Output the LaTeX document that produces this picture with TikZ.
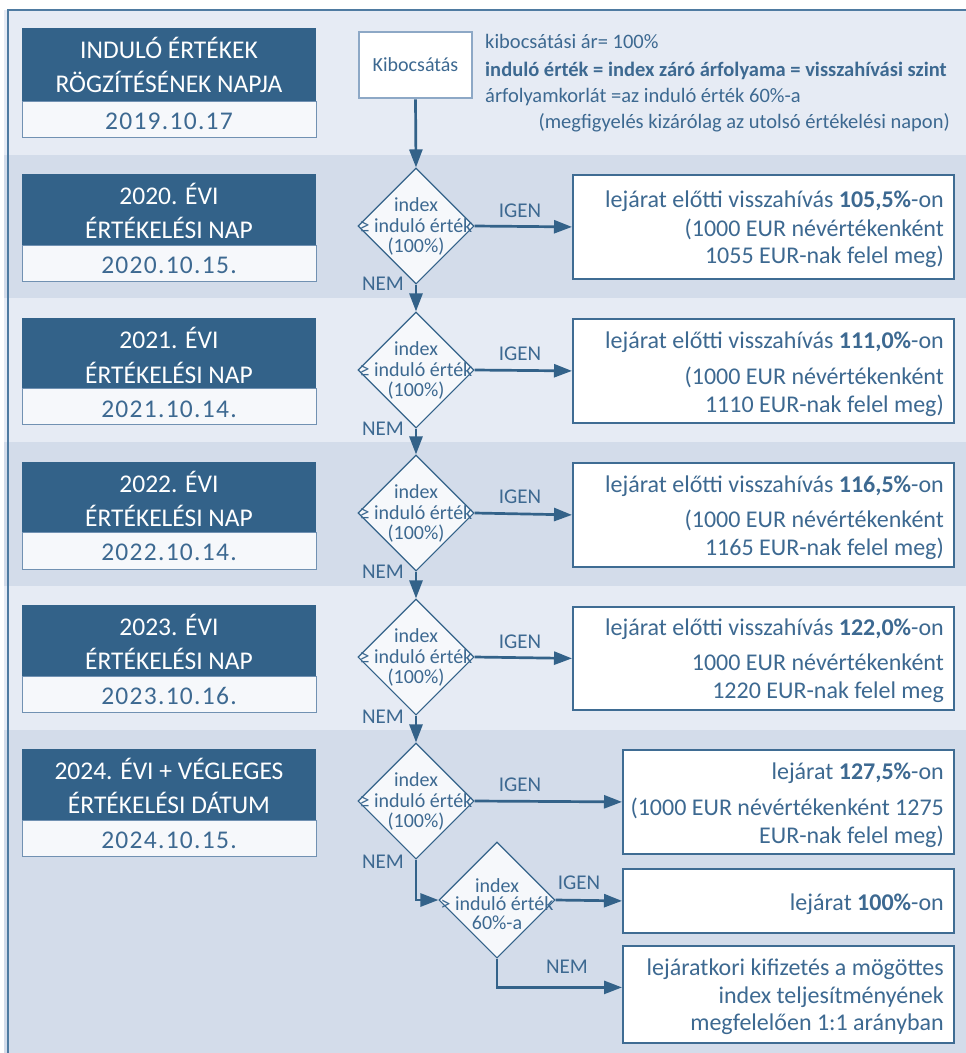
\documentclass[tikz,border=0pt]{standalone}
\usepackage{fontspec}
\setmainfont{Carlito}
\newfontfamily\datefont{Carlito}[LetterSpace=5]
\usetikzlibrary{arrows.meta,shapes.geometric}
\definecolor{bandA}{HTML}{E6EBF4}
\definecolor{bandB}{HTML}{D3DCEA}
\definecolor{navy}{HTML}{336289}
\definecolor{txtblue}{HTML}{3D6991}
\definecolor{framec}{HTML}{4F7BA1}
\definecolor{palefill}{HTML}{F6F8FB}
\definecolor{paleborder}{HTML}{7191B2}
\definecolor{kibborder}{HTML}{8DA8C6}
\definecolor{boxborder}{HTML}{3F6C93}
\tikzset{
  bandrect/.style={fill=#1, draw=none},
  titlebox/.style={rectangle, fill=navy, draw=none, anchor=north west, minimum width=294pt, inner sep=0pt},
  datebox/.style={rectangle, fill=palefill, draw=paleborder, line width=1.2pt, anchor=north west, minimum width=294pt, minimum height=36pt, inner sep=0pt},
  titletxt/.style={text=white, anchor=base, inner sep=0pt, font=\fontsize{25.5pt}{30pt}\selectfont},
  datetxt/.style={text=txtblue, anchor=base, inner sep=0pt, font=\datefont\fontsize{25.5pt}{30pt}\selectfont},
  kibbox/.style={rectangle, fill=white, draw=kibborder, line width=2.8pt, minimum width=113pt, minimum height=66pt, inner sep=0pt, text=txtblue, font=\fontsize{20pt}{24pt}\selectfont},
  htxt/.style={text=txtblue, inner sep=0pt, font=\fontsize{20.5pt}{24pt}\selectfont},
  decision/.style={diamond, aspect=1, fill=palefill, draw=navy, line width=1.1pt, minimum width=116pt, minimum height=116pt, inner sep=0pt},
  dtxt/.style={text=txtblue, anchor=base, inner sep=0pt, font=\fontsize{20pt}{22pt}\selectfont},
  resbox/.style={rectangle, fill=white, draw=boxborder, line width=1.8pt, anchor=north west, inner sep=0pt},
  rtxt/.style={text=txtblue, anchor=base east, inner sep=0pt, font=\fontsize{24pt}{28pt}\selectfont},
  lbl/.style={text=txtblue, anchor=base, inner sep=0pt, font=\fontsize{21pt}{24pt}\selectfont},
  flow/.style={draw=navy, line width=2.7pt, -{Triangle[length=18pt,width=13pt]}},
}
\begin{document}
\begin{tikzpicture}[x=1pt,y=-1pt]
\useasboundingbox (0,0) rectangle (966,1053);
% bands
\path[bandrect=bandA] (4,10) rectangle (966,155);
\path[bandrect=bandB] (4,155) rectangle (966,298);
\path[bandrect=bandA] (4,298) rectangle (966,442);
\path[bandrect=bandB] (4,442) rectangle (966,586);
\path[bandrect=bandA] (4,586) rectangle (966,730);
\path[bandrect=bandB] (4,730) rectangle (966,1053);
\draw[framec, line width=1.3pt] (8,1053) -- (8,10) -- (966,10);

% left boxes
\node[titlebox, minimum height=73pt] (T0) at (22,28) {};
\node[datebox] (E0) at (22,101) {};
\node[titletxt] (T0a) at (169,58) {INDULÓ ÉRTÉKEK};
\node[titletxt] (T0b) at (169,92) {RÖGZÍTÉSÉNEK NAPJA};
\node[datetxt] (E0a) at (169,129) {2019.10.17};

\node[titlebox, minimum height=71pt] (T1) at (22,174) {};
\node[datebox] (E1) at (22,245) {};
\node[titletxt] (T1a) at (169,204) {2020. ÉVI};
\node[titletxt] (T1b) at (169,238) {ÉRTÉKELÉSI NAP};
\node[datetxt] (E1a) at (169,273) {2020.10.15.};

\node[titlebox, minimum height=70pt] (T2) at (22,318) {};
\node[datebox] (E2) at (22,388) {};
\node[titletxt] (T2a) at (169,348) {2021. ÉVI};
\node[titletxt] (T2b) at (169,383) {ÉRTÉKELÉSI NAP};
\node[datetxt] (E2a) at (169,417) {2021.10.14.};

\node[titlebox, minimum height=70pt] (T3) at (22,462) {};
\node[datebox, minimum height=37pt] (E3) at (22,532) {};
\node[titletxt] (T3a) at (169,492) {2022. ÉVI};
\node[titletxt] (T3b) at (169,526) {ÉRTÉKELÉSI NAP};
\node[datetxt] (E3a) at (169,560) {2022.10.14.};

\node[titlebox, minimum height=71pt] (T4) at (22,605) {};
\node[datebox] (E4) at (22,676) {};
\node[titletxt] (T4a) at (169,635) {2023. ÉVI};
\node[titletxt] (T4b) at (169,669) {ÉRTÉKELÉSI NAP};
\node[datetxt] (E4a) at (169,704) {2023.10.16.};

\node[titlebox, minimum height=71pt] (T5) at (22,749) {};
\node[datebox] (E5) at (22,820) {};
\node[titletxt] (T5a) at (169,779) {2024. ÉVI + VÉGLEGES};
\node[titletxt] (T5b) at (169,813) {ÉRTÉKELÉSI DÁTUM};
\node[datetxt] (E5a) at (169,848) {2024.10.15.};

% header
\node[kibbox] (K) at (415.5,65) {Kibocsátás};
\node[htxt, anchor=base west] (H1) at (485,48) {kibocsátási ár= 100\%};
\node[htxt, anchor=base west] (H2) at (485,76) {\textbf{induló érték = index záró árfolyama = visszahívási szint}};
\node[htxt, anchor=base west] (H3) at (485,102) {árfolyamkorlát =az induló érték 60\%-a};
\node[htxt, anchor=base east] (H4) at (950,128) {(megfigyelés kizárólag az utolsó értékelési napon)};

% result boxes
\node[resbox, minimum width=381pt, minimum height=104pt] (R1) at (572,174) {};
\node[rtxt] (R1a) at (944,207) {lejárat előtti visszahívás \textbf{105,5\%}-on};
\node[rtxt] (R1b) at (944,236) {(1000 EUR névértékenként};
\node[rtxt] (R1c) at (944,263) {1055 EUR-nak felel meg)};

\node[resbox, minimum width=381pt, minimum height=104pt] (R2) at (572,318) {};
\node[rtxt] (R2a) at (944,348) {lejárat előtti visszahívás \textbf{111,0\%}-on};
\node[rtxt] (R2b) at (944,384) {(1000 EUR névértékenként};
\node[rtxt] (R2c) at (944,412) {1110 EUR-nak felel meg)};

\node[resbox, minimum width=381pt, minimum height=104pt] (R3) at (572,462) {};
\node[rtxt] (R3a) at (944,492) {lejárat előtti visszahívás \textbf{116,5\%}-on};
\node[rtxt] (R3b) at (944,527) {(1000 EUR névértékenként};
\node[rtxt] (R3c) at (944,555) {1165 EUR-nak felel meg)};

\node[resbox, minimum width=381pt, minimum height=103pt] (R4) at (572,606) {};
\node[rtxt] (R4a) at (944,635) {lejárat előtti visszahívás \textbf{122,0\%}-on};
\node[rtxt] (R4b) at (944,670) {1000 EUR névértékenként};
\node[rtxt] (R4c) at (944,698) {1220 EUR-nak felel meg};

\node[resbox, minimum width=331pt, minimum height=104pt] (R5a) at (622,749) {};
\node[rtxt] (R5aa) at (944,779) {lejárat \textbf{127,5\%}-on};
\node[rtxt] (R5ab) at (944,815) {(1000 EUR névértékenként 1275};
\node[rtxt] (R5ac) at (944,843) {EUR-nak felel meg)};

\node[resbox, minimum width=331pt, minimum height=64pt] (R5b) at (622,868) {};
\node[rtxt] (R5ba) at (944,910) {lejárat \textbf{100\%}-on};

\node[resbox, minimum width=331pt, minimum height=97pt] (R5c) at (622,945) {};
\node[rtxt] (R5ca) at (944,975) {lejáratkori kifizetés a mögöttes};
\node[rtxt] (R5cb) at (944,1003) {index teljesítményének};
\node[rtxt] (R5cc) at (944,1030) {megfelelően 1:1 arányban};

% decisions
\node[decision] (D1) at (416,226) {};
\node[decision] (D2) at (416,370) {};
\node[decision] (D3) at (416,513) {};
\node[decision] (D4) at (416,657) {};
\node[decision] (D5) at (416,801) {};
\node[decision] (D6) at (497,900) {};

% connectors
\draw[flow] (K.south) -- (D1.north);
\draw[flow] (D1.south) -- (D2.north);
\draw[flow] (D2.south) -- (D3.north);
\draw[flow] (D3.south) -- (D4.north);
\draw[flow] (D4.south) -- (D5.north);
\draw[flow] (D1.east) -- (R1.west);
\draw[flow] (D2.east) -- (R2.west);
\draw[flow] (D3.east) -- (R3.west);
\draw[flow] (D4.east) -- (R4.west);
\draw[flow] (D5.east) -- (R5a.west);
\draw[flow] (D5.south) |- (D6.west);
\draw[flow] (D6.east) -- (R5b.west);
\draw[flow] (D6.south) |- ([yshift=7pt]R5c.west);

% decision texts
\node[dtxt] (D1a) at (416,211) {index};
\node[dtxt] (D1b) at (416,232) {≥ induló érték};
\node[dtxt] (D1c) at (416,252) {(100\%)};
\node[dtxt] (D2a) at (416,355) {index};
\node[dtxt] (D2b) at (416,376) {≥ induló érték};
\node[dtxt] (D2c) at (416,396) {(100\%)};
\node[dtxt] (D3a) at (416,498) {index};
\node[dtxt] (D3b) at (416,519) {≥ induló érték};
\node[dtxt] (D3c) at (416,539) {(100\%)};
\node[dtxt] (D4a) at (416,642) {index};
\node[dtxt] (D4b) at (416,663) {≥ induló érték};
\node[dtxt] (D4c) at (416,683) {(100\%)};
\node[dtxt] (D5a) at (416,786) {index};
\node[dtxt] (D5b) at (416,807) {≥ induló érték};
\node[dtxt] (D5c) at (416,827) {(100\%)};
\node[dtxt] (D6a) at (497,892) {index};
\node[dtxt] (D6b) at (497,910) {> induló érték};
\node[dtxt] (D6c) at (497,929) {60\%-a};

% labels
\node[lbl] (I1) at (520,217) {IGEN};
\node[lbl] (I2) at (520,360) {IGEN};
\node[lbl] (I3) at (520,503) {IGEN};
\node[lbl] (I4) at (520,648) {IGEN};
\node[lbl] (I5) at (520,791) {IGEN};
\node[lbl] (I6) at (579,889) {IGEN};
\node[lbl] (N1) at (383,290) {NEM};
\node[lbl] (N2) at (383,435) {NEM};
\node[lbl] (N3) at (383,578) {NEM};
\node[lbl] (N4) at (383,723) {NEM};
\node[lbl] (N5) at (383,868) {NEM};
\node[lbl] (N6) at (567,973) {NEM};
\end{tikzpicture}
\end{document}
